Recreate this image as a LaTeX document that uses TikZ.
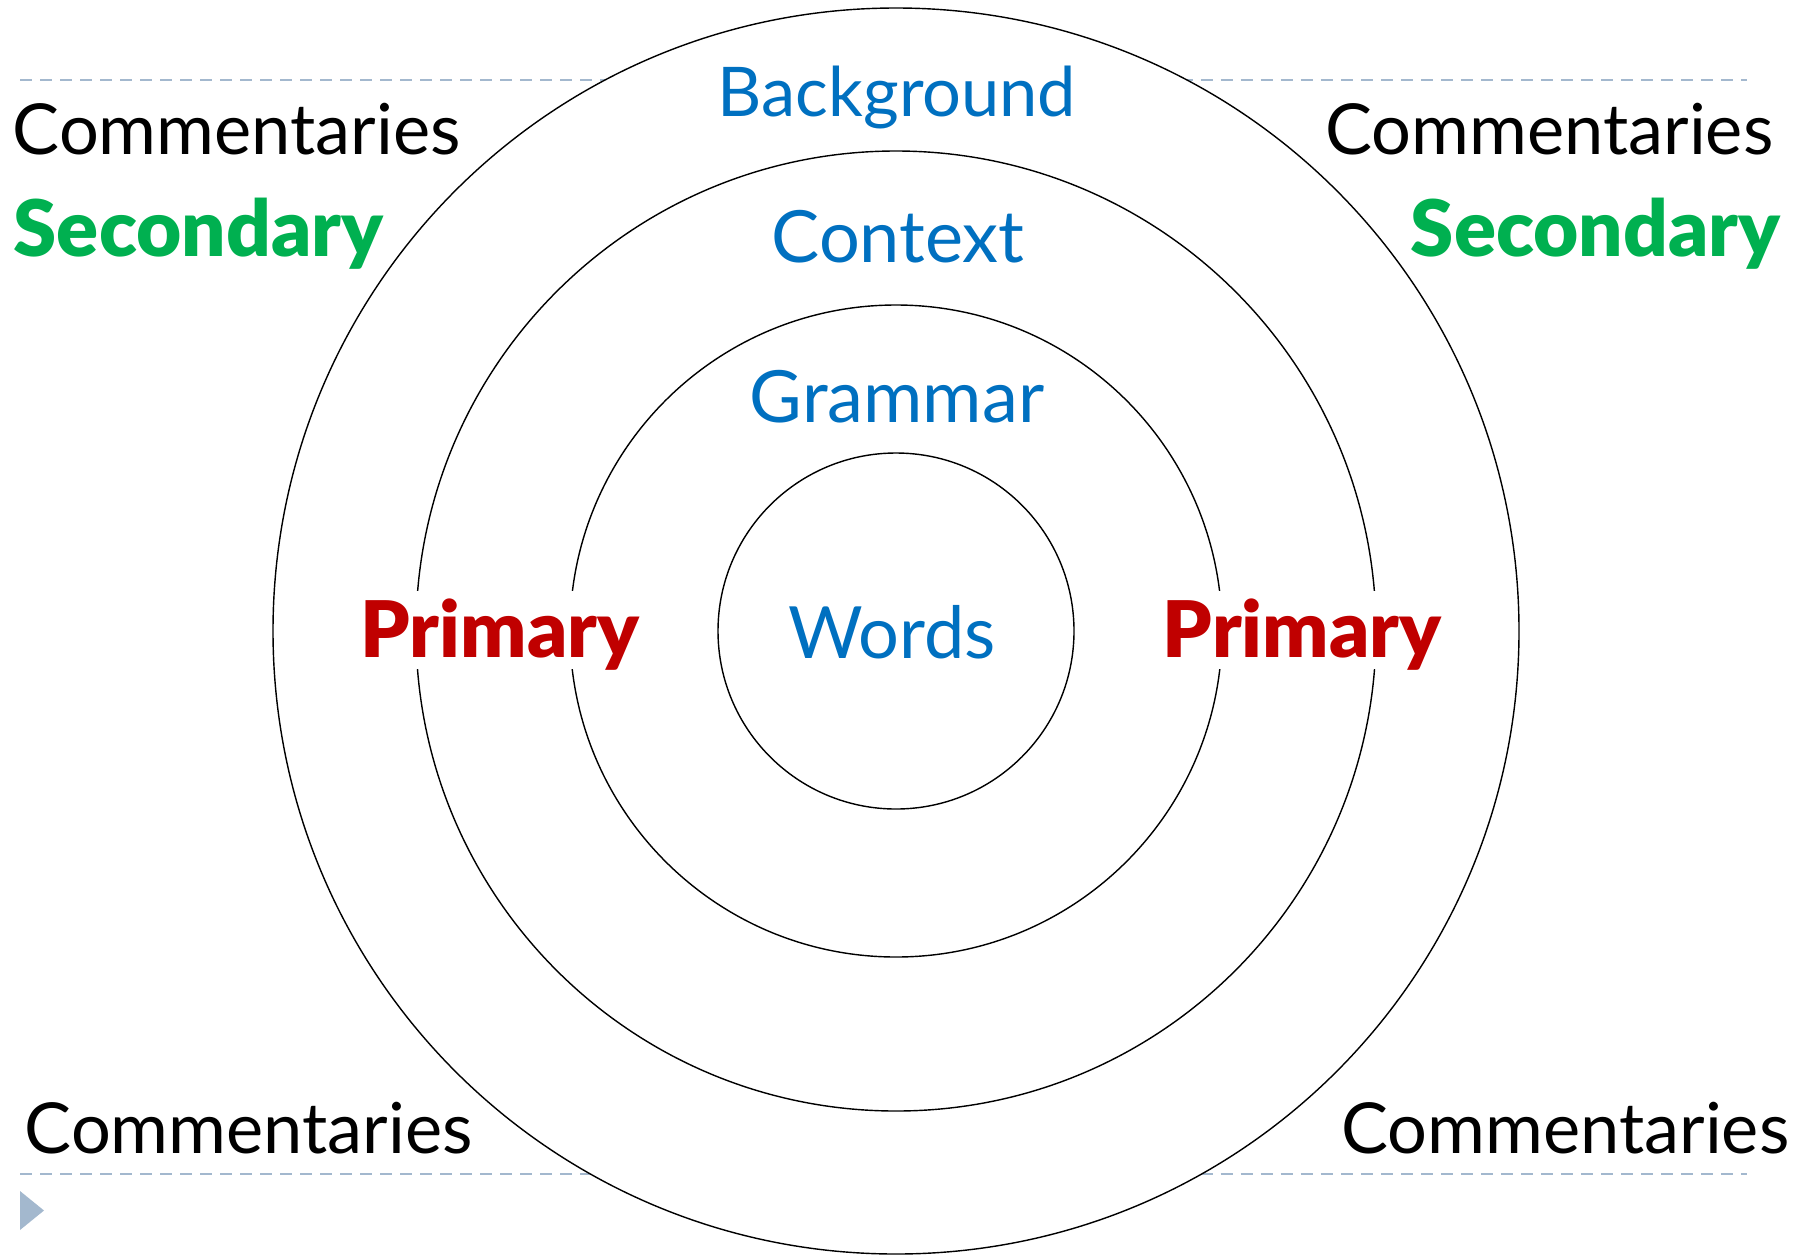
\documentclass[tikz,border=0pt]{standalone}
\usepackage{fontspec}
\setmainfont{Lato}
\newfontfamily\heavyfont{Lato Black}
\usepackage{xcolor}
\usetikzlibrary{positioning}
\definecolor{ringblue}{HTML}{0070C0}
\definecolor{secgreen}{HTML}{00B050}
\definecolor{primred}{HTML}{C00000}
\definecolor{rulegrey}{HTML}{A3B8CE}
\newcommand\labelfont{\fontsize{20.5}{24}\selectfont}
\newcommand\commentfont{\fontsize{20}{24}\selectfont}
\newcommand\boldlabelfont{\heavyfont\fontsize{22.2}{26}\selectfont}
\begin{document}
\begin{tikzpicture}[x=0.01cm, y=-0.01cm,
    ring/.style={draw=black, line width=0.4pt},
    ringlabel/.style={text=ringblue, font=\labelfont, anchor=base, inner sep=0},
    comment/.style={text=black, font=\commentfont, inner sep=0},
    secondary/.style={text=secgreen, font=\boldlabelfont, inner sep=0},
    primary/.style={text=primred, font=\boldlabelfont, anchor=base, fill=white,
                    inner xsep=2pt, inner ysep=0pt, text height=0.66cm, text depth=0.12cm},
    rule/.style={draw=rulegrey, line width=0.6pt, dash pattern=on 0.12cm off 0.08cm}]
    \useasboundingbox (0,0) rectangle (1806,1254);
    % dashed rules behind the rings
    \coordinate (tl) at (20,80);    \coordinate (tr) at (1747,80);
    \coordinate (bl) at (20,1174);  \coordinate (br) at (1747,1174);
    \draw[rule] (tl) -- (tr);
    \draw[rule] (bl) -- (br);
    \fill[rulegrey] (20,1191) -- (44,1210.5) -- (20,1230) -- cycle;
    % the rings
    \coordinate (c) at (896,631);
    \filldraw[ring, fill=white] (c) circle (623);
    \foreach \r in {480, 326, 178}
        \draw[ring] (c) circle (\r);
    % ring labels
    \node[ringlabel, font=\fontsize{19.5}{24}\selectfont] (background) at (897,116) {Background};
    \node[ringlabel] (context)    at (898,262) {Context};
    \node[ringlabel] (grammar)    at (897,422) {Grammar};
    \node[ringlabel] (words)      at (892,658) {Words};
    \node[primary] (primaryl) at (500,657) {Primary};
    \node[primary] (primaryr) at (1302,657) {Primary};
    % corner labels
    \node[comment, anchor=base west] (comtl) at (12,154) {Commentaries};
    \node[secondary, anchor=base west] (sectl) at (13,256) {Secondary};
    \node[comment, anchor=base east] (comtr) at (1774,154) {Commentaries};
    \node[secondary, anchor=base east] (sectr) at (1781,256) {Secondary};
    \node[comment, anchor=base west] (combl) at (24,1153) {Commentaries};
    \node[comment, anchor=base east] (combr) at (1790,1153) {Commentaries};
\end{tikzpicture}
\end{document}
